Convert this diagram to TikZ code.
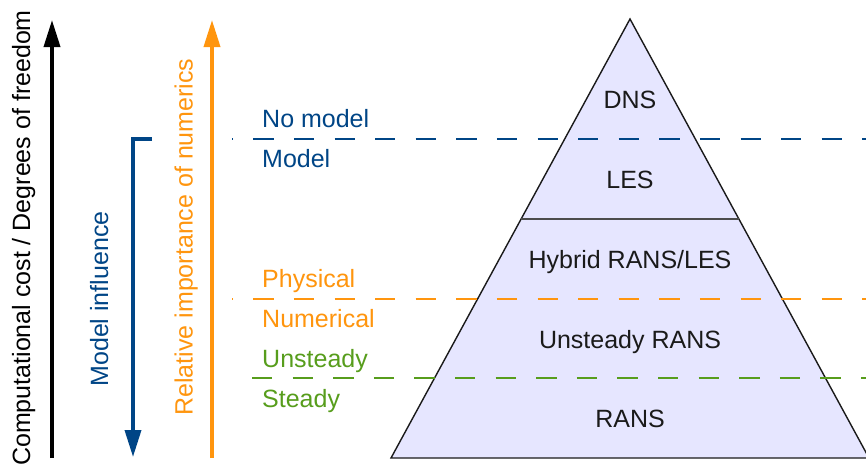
\documentclass[tikz,border=0pt]{standalone}
\usepackage{fontspec}
\setmainfont{Liberation Sans}
\usetikzlibrary{arrows.meta}
\definecolor{lblue}{HTML}{004586}
\definecolor{lorange}{HTML}{FF950E}
\definecolor{lgreen}{HTML}{579D1C}
\definecolor{lfill}{HTML}{E6E6FF}
\definecolor{ltext}{HTML}{1A1A1A}
\tikzset{
  lbl/.style={font=\fontsize{25}{30}\selectfont, inner sep=0pt},
  pyrtext/.style={lbl, text=ltext, anchor=base},
  sidetext/.style={lbl, anchor=base west},
  bigarrow/.style={line width=3.6pt, -{Triangle[width=16pt,length=27pt]}},
  divider/.style={line width=2.6pt, dash pattern=on 20.3pt off 20.3pt},
}
\begin{document}
\begin{tikzpicture}[x=1pt,y=-1pt]
\useasboundingbox (0,0) rectangle (866,469);
% pyramid
\begin{scope}
\clip (0,0) rectangle (866,469);
\coordinate (apex) at (630,19);
\coordinate (bl) at (391,458);
\coordinate (br) at (869,458);
\filldraw[fill=lfill, draw=ltext, line width=1.4pt, line join=miter] (apex) -- (bl) -- (br) -- cycle;
\coordinate (hl) at (521.1,219);
\coordinate (hr) at (738.9,219);
\draw[line width=1.4pt, draw=black!70] (hl) -- (hr);
% dashed dividers
\coordinate (b1) at (232,139); \coordinate (b2) at (866,139);
\coordinate (o1) at (232,299); \coordinate (o2) at (866,299);
\coordinate (g1) at (252,378); \coordinate (g2) at (866,378);
\draw[divider, lblue, dash phase=19.3pt] (b1) -- (b2);
\draw[divider, lorange, dash phase=19.3pt] (o1) -- (o2);
\draw[divider, lgreen] (g1) -- (g2);
\end{scope}
% pyramid labels
\node[pyrtext] (dns) at (630,108) {DNS};
\node[pyrtext] (les) at (630,188) {LES};
\node[pyrtext] (hyb) at (630,268) {Hybrid RANS/LES};
\node[pyrtext] (urans) at (630,348) {Unsteady RANS};
\node[pyrtext] (rans) at (630,427) {RANS};
% side labels
\node[sidetext, text=lblue] (nomodel) at (262,127) {No model};
\node[sidetext, text=lblue] (model) at (262,167) {Model};
\node[sidetext, text=lorange] (phys) at (262,287) {Physical};
\node[sidetext, text=lorange] (num) at (262,327) {Numerical};
\node[sidetext, text=lgreen] (unst) at (262,367) {Unsteady};
\node[sidetext, text=lgreen] (std) at (262,407) {Steady};
% arrows
\coordinate (k1) at (52,458); \coordinate (k2) at (52,20);
\draw[bigarrow, black] (k1) -- (k2);
\coordinate (r1) at (212,458); \coordinate (r2) at (212,20);
\draw[bigarrow, lorange] (r1) -- (r2);
\coordinate (m0) at (152,139); \coordinate (m1) at (133,139); \coordinate (m2) at (133,457);
\draw[bigarrow, lblue, line join=miter] (m0) -- (m1) -- (m2);
% rotated labels
\node[lbl, rotate=90, anchor=base, text=black] (cost) at (30,238) {Computational cost / Degrees of freedom};
\node[lbl, rotate=90, anchor=base, text=lblue] (infl) at (108,299) {Model influence};
\node[lbl, rotate=90, anchor=base, text=lorange] (rel) at (192.5,237) {Relative importance of numerics};
\end{tikzpicture}
\end{document}
